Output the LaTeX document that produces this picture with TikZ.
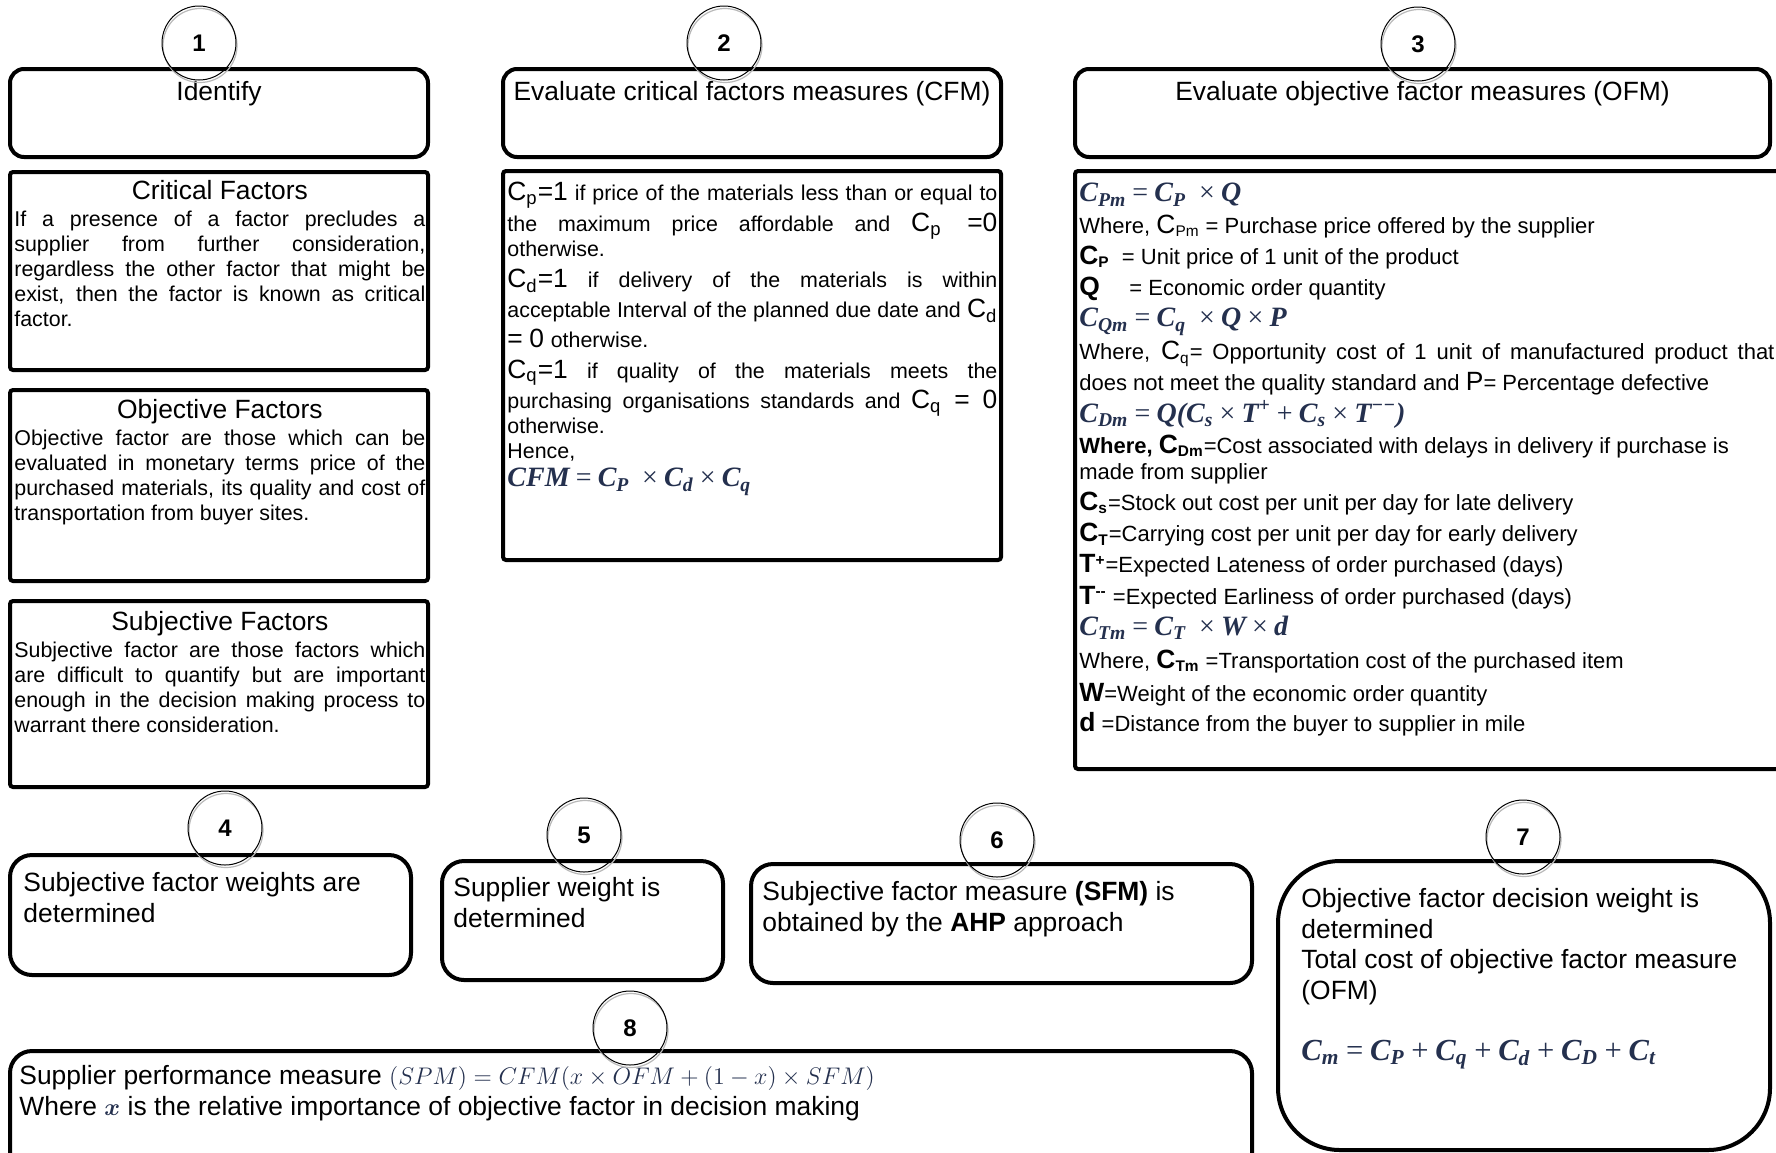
\documentclass[tikz,border=0pt]{standalone}
\usepackage{amsmath}
\usepackage{bm}
\usepackage{fontspec}
\setmainfont{Liberation Sans}
\newfontfamily\fmfont{Liberation Serif}
\usetikzlibrary{positioning}
\usetikzlibrary{fit}
\definecolor{mathcol}{RGB}{36,48,78}
\tikzstyle{hdr}  = [
    draw,
    line width=2pt,
    rounded corners=7pt,
    inner sep=0pt
]
\tikzstyle{cont} = [
    draw,
    line width=2pt,
    rounded corners=1.5pt,
    inner sep=0pt
]
\tikzstyle{stage} = [
    draw,
    line width=2pt,
    rounded corners=11pt,
    inner sep=0pt
]
\tikzstyle{num}  = [
    shape=circle,
    draw,
    line width=0.5pt,
    inner sep=0pt,
    minimum size=37pt,
    font=\fontsize{12}{12}\selectfont\bfseries
]
\tikzstyle{ring} = [draw=gray!55, line width=0.6pt]
\tikzstyle{txt}  = [anchor=north west, inner sep=0pt, align=justify]
\newcommand{\hfont}{\fontsize{13.2}{15.3}\selectfont}
\newcommand{\bfont}{\fontsize{10.7}{12.5}\selectfont}
\newcommand{\BigC}[1]{{\fontsize{13.2}{15}\selectfont\rule{0pt}{11pt}#1}}
% formulas: bold italic serif, thin operators
\newcommand{\fm}[2][14]{{\fontsize{#1}{15.7}\selectfont\fmfont\bfseries\itshape\color{mathcol}#2}}
\newcommand{\op}[1]{\hspace{0.22em}{\mdseries\upshape #1}\hspace{0.22em}}
\newcommand{\sub}[1]{\textsubscript{#1}}
\newcommand{\jl}[1]{{\spaceskip=0pt\xspaceskip=0pt\makebox[245pt][s]{#1}}}

\begin{document}
\begin{tikzpicture}[x=0.5pt, y=-0.5pt]
\useasboundingbox (0,0) rectangle (1776,1152);
\clip (0,0) rectangle (1776,1152);

% row of headers
\node[hdr, fit={(10,69) (428,157)}]    (h1) {};
\node[hdr, fit={(503,69) (1001,157)}]  (h2) {};
\node[hdr, fit={(1075,69) (1770,157)}] (h3) {};
\node[font=\hfont, anchor=north] (t1) at ([yshift=-3.8pt]h1.north) {Identify};
\node[font=\hfont, anchor=north] (t2) at ([yshift=-3.8pt]h2.north) {Evaluate critical factors measures (CFM)};
\node[font=\hfont, anchor=north] (t3) at ([yshift=-3.8pt]h3.north) {Evaluate objective factor measures (OFM)};

% content boxes
\node[cont, fit={(10,172) (428,370)}]   (crit) {};
\node[cont, fit={(10,390) (428,581)}]   (obj)  {};
\node[cont, fit={(10,601) (428,787)}]   (subj) {};
\node[cont, fit={(503,171) (1001,560)}] (cfm)  {};
\node[cont, fit={(1075,171) (1800,769)}] (ofm) {};

\node[txt, text width=205.5pt] (critx) at (14,180) {%
{\centering\hfont Critical Factors\par}\vspace{1.1pt}
\bfont If a presence of a factor precludes a\linebreak supplier from further consideration,\linebreak regardless the other factor that might be\linebreak exist, then the factor is known as critical\linebreak factor.\par};

\node[txt, text width=205.5pt] (objx) at (14,399) {%
{\centering\hfont Objective Factors\par}\vspace{1.1pt}
\bfont Objective factor are those which can be\linebreak evaluated in monetary terms price of the\linebreak purchased materials, its quality and cost of\linebreak transportation from buyer sites.\par};

\node[txt, text width=205.5pt] (subjx) at (14,611) {%
{\centering\hfont Subjective Factors\par}\vspace{1.1pt}
\bfont Subjective factor are those factors which\linebreak are difficult to quantify but are important\linebreak enough in the decision making process to\linebreak warrant there consideration.\par};

\node[txt, align=left, text width=245pt] (cfmx) at (507,178.5) {%
\fontsize{10.7}{12.5}\selectfont\lineskiplimit=-10pt
\jl{\BigC{C\sub{p}=1} if price of the materials less than or equal to}\\[2.8pt]
\jl{the maximum price affordable and \BigC{C\sub{p} =0}}\\
otherwise.\\[3.1pt]
\jl{\BigC{C\sub{d}=1} if delivery of the materials is within}\\[2.2pt]
\jl{acceptable Interval of the planned due date and \BigC{C\sub{d}}}\\[2.8pt]
\BigC{= 0} otherwise.\\[2.8pt]
\jl{\BigC{C\sub{q}=1} if quality of the materials meets the}\\[2.8pt]
\jl{purchasing organisations standards and \BigC{C\sub{q} = 0}}\\
otherwise.\\
Hence,\\[1.9pt]
\fm{CFM\op{=}C\sub{P}\ \op{×}C\sub{d}\op{×}C\sub{q}}};

\node[txt, text width=347.5pt] (ofmx) at (1079,183) {%
\fontsize{11}{15.6}\selectfont
\fm{C\sub{Pm}\op{=}C\sub{P}\ \op{×}Q}\par
Where, \BigC{C}\sub{Pm} = Purchase price offered by the supplier\par
\textbf{\BigC{C}\sub{P}} \ = Unit price of 1 unit of the product\par
\makebox[25pt][l]{\textbf{\BigC{Q}}}= Economic order quantity\par
\fm{C\sub{Qm}\op{=}C\sub{q}\ \op{×}Q\op{×}P}\par
\vspace{0.9pt}Where, \BigC{C}\sub{q}= Opportunity cost of 1 unit of manufactured product that\linebreak does not meet the quality standard and \BigC{P}= Percentage defective\par
\fm{C\sub{Dm}\op{=}Q(C\sub{s}\op{×}T\textsuperscript{+}\op{+}C\sub{s}\op{×}T\textsuperscript{−−})}\par
\textbf{Where, \BigC{C}\sub{Dm}}=Cost associated with delays in delivery if purchase is\par
\vspace{-2.6pt}made from supplier\par
\textbf{\BigC{C}\sub{s}}=Stock out cost per unit per day for late delivery\par
\textbf{\BigC{C}\sub{T}}=Carrying cost per unit per day for early delivery\par
\textbf{\BigC{T}\textsuperscript{+}}=Expected Lateness of order purchased (days)\par
\textbf{\BigC{T}\textsuperscript{-{}-}} =Expected Earliness of order purchased (days)\par
\fm{C\sub{Tm}\op{=}C\sub{T}\ \op{×}W\op{×}d}\par
\vspace{1pt}Where, \textbf{\BigC{C}\sub{Tm}} =Transportation cost of the purchased item\par
\vspace{0.8pt}\textbf{\BigC{W}}=Weight of the economic order quantity\par
\vspace{0.8pt}\textbf{\BigC{d}} =Distance from the buyer to supplier in mile};

% bottom row
\node[stage, fit={(10,855) (411,975)}]   (b4) {};
\node[stage, fit={(442,861) (723,980)}]  (b5) {};
\node[stage, fit={(751,864) (1252,983)}] (b6) {};
\node[stage, rounded corners=31pt, fit={(1278,861) (1770,1150)}] (b7) {};
\node[stage, fit={(10,1051) (1252,1180)}] (b8) {};

\node[txt, align=left, font=\hfont] (b4x) at (23,872) {Subjective factor weights are\\determined};
\node[txt, align=left, font=\hfont] (b5x) at (453,877) {Supplier weight is\\determined};
\node[txt, align=left, font=\hfont] (b6x) at (762,881) {Subjective factor measure \textbf{(SFM)} is\\obtained by the \textbf{AHP} approach};
\node[txt, align=left, font=\hfont] (b7x) at (1301,888) {Objective factor decision weight is\\determined\\Total cost of objective factor measure\\(OFM)\\[15.3pt]\fm[15.3]{C\sub{m}\op{=}C\sub{P}\op{+}C\sub{q}\op{+}C\sub{d}\op{+}C\sub{D}\op{+}C\sub{t}}};
\node[txt, align=left, font=\hfont] (b8x) at (19,1065) {Supplier performance measure \textcolor{mathcol}{$(SPM) = CFM(x \times OFM + (1-x) \times SFM)$}\\Where \textcolor{mathcol}{$\bm{x}$} is the relative importance of objective factor in decision making};

% numbered circles
\foreach \n/\px/\py in {1/199/43, 2/724/43, 3/1418/44, 4/225/828, 5/584/835, 6/997/840, 7/1523/837, 8/630/1028} {
    \draw[ring] (\px+1,\py+2.5) circle[radius=18.5pt];
    \node[num] (n\n) at (\px,\py) {\n};
}

\end{tikzpicture}
\end{document}
